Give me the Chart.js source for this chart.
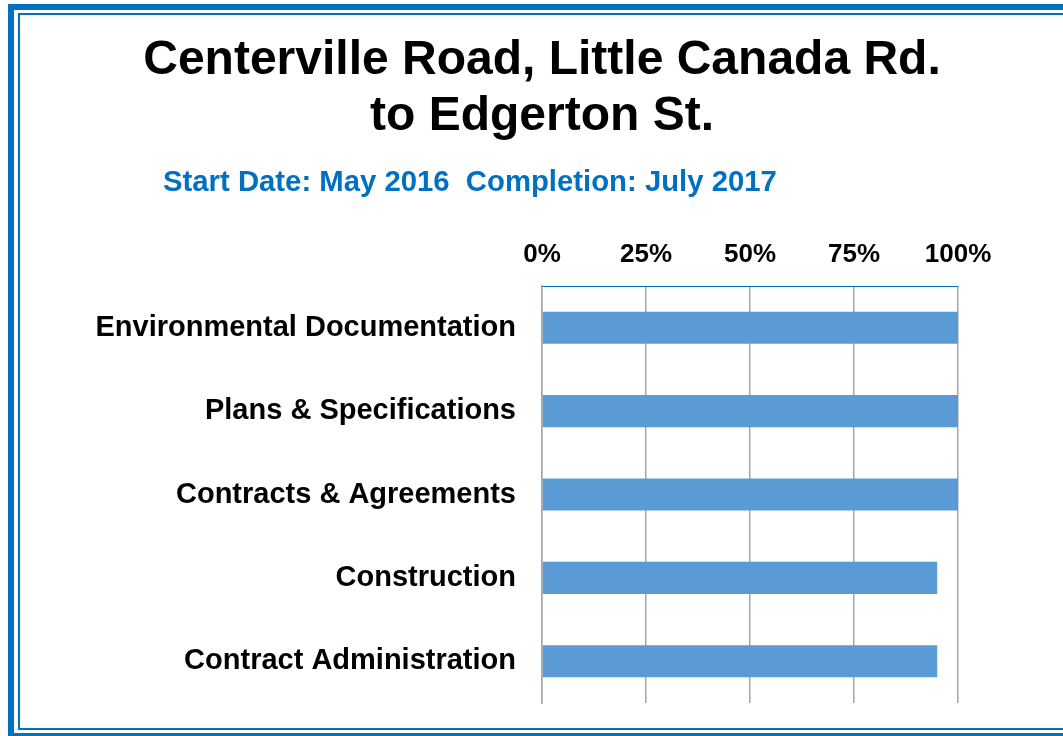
<!DOCTYPE html>
<html>
<head>
<meta charset="utf-8">
<script src="https://cdn.jsdelivr.net/npm/chart.js@4"></script>
<style>
  body { margin: 0; background: #fff; }
  #wrap { width: 1063px; height: 736px; position: relative; }
</style>
</head>
<body>
<div id="wrap"><canvas id="progress-chart" width="1063" height="736"></canvas></div>
<script>
var titleLines = ['Centerville Road, Little Canada Rd.', 'to Edgerton St.'];
var subtitleText = 'Start Date: May 2016  Completion: July 2017';
var tasks = ['Environmental Documentation', 'Plans & Specifications', 'Contracts & Agreements', 'Construction', 'Contract Administration'];
var percentDone = [100, 100, 100, 95, 95];
var tickValues = [0, 25, 50, 75, 100];

var fontFamily = '"Liberation Sans", Arial, sans-serif';

// frame + headings drawn on the canvas
var framePlugin = {
  id: 'frame',
  beforeDraw: function(chart) {
    var ctx = chart.ctx;
    ctx.save();
    ctx.strokeStyle = '#0070C0';
    ctx.lineWidth = 6;
    ctx.strokeRect(11, 7, 1100, 729);
    ctx.lineWidth = 2;
    ctx.strokeRect(19, 14, 1100, 715);
    ctx.restore();
  },
  afterDraw: function(chart) {
    var ctx = chart.ctx;
    ctx.save();
    ctx.fillStyle = '#000';
    ctx.font = 'bold 48px ' + fontFamily;
    ctx.textAlign = 'center';
    ctx.textBaseline = 'alphabetic';
    ctx.fillText(titleLines[0], 542, 74);
    ctx.fillText(titleLines[1], 542, 130);
    ctx.fillStyle = '#0070C0';
    ctx.font = 'bold 29.3px ' + fontFamily;
    ctx.textAlign = 'left';
    ctx.fillText(subtitleText, 163, 191);
    ctx.restore();
  }
};

var chart = new Chart(document.getElementById('progress-chart'), {
  type: 'bar',
  data: {
    labels: tasks,
    datasets: [{
      label: 'Complete',
      data: percentDone,
      backgroundColor: '#5B9BD5',
      borderWidth: 0,
      categoryPercentage: 1,
      barPercentage: 0.385
    }]
  },
  options: {
    indexAxis: 'y',
    responsive: false,
    animation: false,
    layout: { padding: { left: 0, top: 200, right: 105, bottom: 33 } },
    plugins: {
      legend: { display: false },
      tooltip: { enabled: false },
      title: { display: false }
    },
    scales: {
      x: {
        position: 'top',
        min: 0,
        max: 100,
        afterFit: function(axis) { axis.height = 86; },
        afterBuildTicks: function(axis) {
          axis.ticks = tickValues.map(function(v) { return { value: v }; });
        },
        ticks: {
          padding: 16,
          color: '#000',
          font: { family: fontFamily, size: 26, weight: 'bold' },
          callback: function(v) { return v + '%'; }
        },
        grid: { color: '#A6A6A6', lineWidth: 1.5, drawTicks: false },
        border: { color: '#0070C0', width: 1 }
      },
      y: {
        afterFit: function(axis) {
          axis.width = 542;
          axis.paddingTop = 0;
          axis.paddingBottom = 0;
        },
        ticks: {
          padding: 26,
          color: '#000',
          font: { family: fontFamily, size: 29, weight: 'bold' }
        },
        grid: { display: false, drawTicks: false },
        border: { color: '#A6A6A6', width: 1.5 }
      }
    }
  },
  plugins: [framePlugin]
});
</script>
</body>
</html>
